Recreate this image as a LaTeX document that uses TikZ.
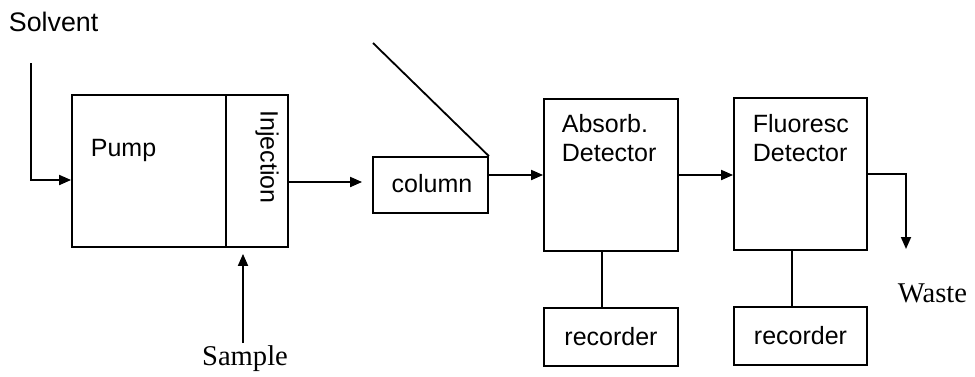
\documentclass[tikz,border=0pt]{standalone}
\usepackage{fontspec}
\setmainfont{Liberation Sans}
\newfontfamily\serifface{Liberation Serif}
\usetikzlibrary{arrows.meta}
\begin{document}
\begin{tikzpicture}[x=0.5pt,y=-0.5pt,
  line width=0.9pt,
  box/.style={draw,rectangle,inner sep=0pt},
  lbl/.style={inner sep=0pt,font=\fontsize{12.5pt}{14.5pt}\selectfont},
  slbl/.style={inner sep=0pt,font=\serifface\fontsize{14.3pt}{16pt}\selectfont},
  arr/.style={-{Triangle[length=6pt,width=5pt]}}]
\useasboundingbox (0,0) rectangle (975,376);
% boxes
\node[box,minimum width=77pt,minimum height=76pt] (pump) at (149,171) {};
\node[box,minimum width=31pt,minimum height=76pt] (inj) at (257,171) {};
\node[box,minimum width=57.5pt,minimum height=28pt] (col) at (430.5,185) {};
\node[box,minimum width=67pt,minimum height=76pt] (abs) at (611,175) {};
\node[box,minimum width=66.5pt,minimum height=76pt] (flu) at (800.5,174) {};
\node[box,minimum width=67pt,minimum height=29pt] (absrec) at (611,337) {};
\node[box,minimum width=66.5pt,minimum height=29pt] (flurec) at (800.5,336) {};
% texts
\node[lbl,anchor=west,font=\fontsize{13.4pt}{15pt}\selectfont] (solvtxt) at (8,22) {Solvent};
\node[lbl,anchor=west] (pumptxt) at (90,150) {Pump};
\node[lbl,rotate=-90] (injtxt) at (267,157) {Injection};
\node[lbl] (coltxt) at (432,184) {column};
\node[lbl,anchor=north west,align=left] (abstxt) at (561,113) {Absorb.\\Detector};
\node[lbl,anchor=north west,align=left] (flutxt) at (752,113) {Fluoresc\\Detector};
\node[lbl] (absrectxt) at (absrec) {recorder};
\node[lbl] (flurectxt) at (flurec) {recorder};
\node[slbl] (samp) at (245,359) {Sample};
\node[slbl,anchor=west] (waste) at (897,293) {Waste};
% connectors
\coordinate (s0) at (31,63);
\coordinate (s1) at (31,180);
\draw[arr] (s0) -- (s1) -- (pump.west |- s1);
\draw[arr,shorten >=5pt] (inj.east |- 0,182) -- (col.west |- 0,182);
\draw[arr] (col.east |- abs.west) -- (abs.west);
\draw[arr] (abs.east |- 0,175) -- (flu.west |- 0,175);
\coordinate (w1) at (906,249);
\draw[arr] (flu.east) -| (w1);
\coordinate (d0) at (373,43);
\draw (d0) -- (col.north east);
\draw[arr,shorten >=3pt,shorten <=1pt] ([xshift=-1pt]samp.north) -- ([xshift=-1pt]samp.north |- inj.south);
\draw ([xshift=-4.5pt]abs.south) -- ([xshift=-4.5pt]absrec.north);
\draw ([xshift=-4.25pt]flu.south) -- ([xshift=-4.25pt]flurec.north);
\end{tikzpicture}
\end{document}
